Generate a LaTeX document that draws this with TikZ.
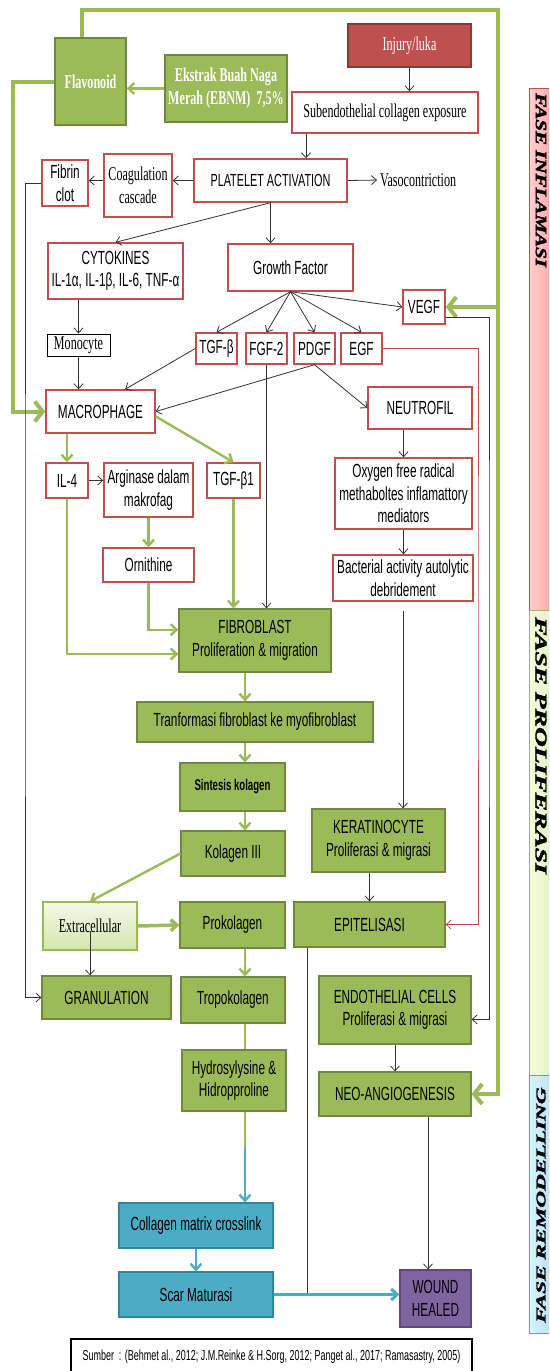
\documentclass[tikz,border=0pt]{standalone}
\usepackage{fontspec}
\usepackage{graphicx}
\usetikzlibrary{arrows.meta}
\newfontfamily\nsans{Liberation Sans}[FakeStretch=0.62]
\newfontfamily\nserif{Liberation Serif}[FakeStretch=0.62]
\newfontfamily\phasefont{Liberation Serif}[BoldItalicFeatures={FakeBold=2}]
\definecolor{redline}{HTML}{C0504D}
\definecolor{rededge}{HTML}{8C3836}
\definecolor{olive}{HTML}{9BBB59}
\definecolor{oliveedge}{HTML}{71893F}
\definecolor{aqua}{HTML}{4BACC6}
\definecolor{aquaedge}{HTML}{31859C}
\definecolor{grape}{HTML}{8064A2}
\definecolor{grapeedge}{HTML}{5F497A}
\definecolor{wire}{HTML}{333333}
\definecolor{pinkA}{HTML}{FFD0D0}
\definecolor{pinkB}{HTML}{FF9A9A}
\definecolor{limeA}{HTML}{F3FBE2}
\definecolor{limeB}{HTML}{DDF2B8}
\definecolor{skyA}{HTML}{DDF3FF}
\definecolor{skyB}{HTML}{A9DDF5}
\definecolor{extA}{HTML}{F4F9EA}
\definecolor{extB}{HTML}{D3E5AD}

\begin{document}
\begin{tikzpicture}[x=1pt,y=-1pt,
    every node/.style={inner sep=0pt,align=center},
    sz/.style 2 args={minimum width=#1,minimum height=#2},
    sansfont/.style={font=\nsans\fontsize{19}{22.5}\selectfont},
    seriffont/.style={font=\nserif\fontsize{19.5}{23}\selectfont},
    redbox/.style={draw=redline,line width=1.4pt,fill=white,sansfont},
    redserif/.style={redbox,seriffont},
    injbox/.style={draw=rededge,line width=1.4pt,fill=redline,text=white,seriffont},
    monobox/.style={draw=black,line width=1pt,fill=white,seriffont},
    grnbox/.style={draw=oliveedge,line width=1.2pt,fill=olive,sansfont},
    grnserif/.style={grnbox,text=white,font=\nserif\bfseries\fontsize{19.5}{23}\selectfont},
    extbox/.style={draw=olive,line width=1.2pt,top color=extA,bottom color=extB,seriffont},
    aquabox/.style={draw=aquaedge,line width=1.2pt,fill=aqua,sansfont},
    grapebox/.style={draw=grapeedge,line width=1.2pt,fill=grape,sansfont},
    srcbox/.style={draw=black,line width=1.6pt,fill=white,font=\nsans\fontsize{14.5}{17}\selectfont},
    phase/.style={font=\phasefont\bfseries\itshape},
    wireline/.style={draw=wire,line width=0.8pt},
    blk/.style={wireline,-{Straight Barb[length=5pt,width=9pt]}},
    redarr/.style={draw=redline,line width=0.8pt,-{Straight Barb[length=5pt,width=9pt]}},
    grnline/.style={draw=olive,line width=2.4pt},
    grn/.style={grnline,-{Straight Barb[length=6pt,width=11pt]}},
    grnthick/.style={draw=olive,line width=4pt,-{Straight Barb[length=8pt,width=20pt]}},
    aquaarr/.style={draw=aqua,line width=2.4pt,-{Straight Barb[length=6pt,width=11pt]}}]
\useasboundingbox (0,0) rectangle (549,1371);
\clip (0,0) rectangle (549,1371);

% phase bands
\draw[redline,line width=0.8pt,left color=pinkA,right color=pinkB] (529,88) rectangle (560,610);
\draw[olive,line width=0.8pt,left color=limeA,right color=limeB] (529,610) rectangle (560,1075);
\draw[aqua,line width=0.8pt,left color=skyA,right color=skyB] (529,1075) rectangle (560,1333);
\node[phase,rotate=-90,anchor=west] (tinf) at (541,93) {\scalebox{1}[0.75]{\fontsize{21}{21}\selectfont FASE INFLAMASI}};
\node[phase,rotate=-90,anchor=west] (tpro) at (541,617) {\scalebox{1}[0.6]{\fontsize{27.5}{27.5}\selectfont FASE PROLIFERASI}};
\node[phase,rotate=90,anchor=west] (trem) at (541,1323) {\scalebox{1}[0.58]{\fontsize{23.3}{23.3}\selectfont FASE REMODELLING}};

% boxes
\node[grnserif,sz={71}{87}] (flav) at (90.5,81.5) {Flavonoid};
\node[grnserif,sz={122}{67}] (ebnm) at (226,88.5) {Ekstrak Buah Naga\\Merah (EBNM) \ 7,5\%};
\node[injbox,sz={123}{43}] (inj) at (409.5,45.5) {Injury/luka};
\node[redserif,sz={186}{41}] (sub) at (385,112.5) {Subendothelial collagen exposure};
\node[redbox,sz={153}{43},font=\nsans\fontsize{17.5}{21}\selectfont] (plt) at (270.5,180.5) {PLATELET ACTIVATION};
\node[redserif,sz={68}{63}] (coag) at (138,185.5) {Coagulation\\cascade};
\node[redbox,sz={46}{46}] (fib) at (65,183) {Fibrin\\clot};
\node[seriffont,anchor=west] (vaso) at (380,180) {Vasocontriction};
\node[redbox,sz={135}{56}] (cyto) at (115.5,271) {CYTOKINES\\IL-1α, IL-1β, IL-6, TNF-α};
\node[redbox,sz={125}{47}] (gf) at (290.5,267.5) {Growth Factor};
\node[redbox,sz={42}{34}] (vegf) at (424,307) {VEGF};
\node[redbox,sz={41}{31}] (tgfb) at (216.5,348.5) {TGF-β};
\node[redbox,sz={41}{31}] (fgf) at (266.5,348.5) {FGF-2};
\node[redbox,sz={41}{31}] (pdgf) at (314.5,348.5) {PDGF};
\node[redbox,sz={41}{31}] (egf) at (361.5,348.5) {EGF};
\node[monobox,sz={63}{22}] (mono) at (78.5,345) {Monocyte};
\node[redbox,sz={109}{43}] (mac) at (100.5,411.5) {MACROPHAGE};
\node[redbox,sz={104}{42}] (neut) at (420,408) {NEUTROFIL};
\node[redbox,sz={42}{35}] (il4) at (67,480.5) {IL-4};
\node[redbox,sz={89}{54}] (arg) at (148.5,490) {Arginase dalam\\makrofag};
\node[redbox,sz={53}{35}] (tgfb1) at (233.5,480.5) {TGF-β1};
\node[redbox,sz={91}{34}] (orn) at (148.5,565) {Ornithine};
\node[redbox,sz={137}{71}] (oxy) at (403.5,493.5) {Oxygen free radical\\methaboltes inflamattory\\mediators};
\node[redbox,sz={140}{46}] (bact) at (403,578) {Bacterial activity autolytic\\debridement};
\node[grnbox,sz={152}{63}] (fibro) at (255,640.5) {FIBROBLAST\\Proliferation \& migration};
\node[grnbox,sz={236}{40}] (trans) at (255,722) {Tranformasi fibroblast ke myofibroblast};
\node[grnbox,sz={105}{48},font=\nsans\bfseries\fontsize{15.5}{18}\selectfont] (sint) at (232.5,787) {Sintesis kolagen};
\node[grnbox,sz={104}{45}] (kol3) at (233,853.5) {Kolagen III};
\node[grnbox,sz={133}{63}] (kera) at (378.5,840.5) {KERATINOCYTE\\Proliferasi \& migrasi};
\node[extbox,sz={94}{48}] (extra) at (90,926) {Extracellular};
\node[grnbox,sz={105}{46}] (prok) at (232.5,925) {Prokolagen};
\node[grnbox,sz={151}{45}] (epit) at (369.5,924.5) {EPITELISASI};
\node[grnbox,sz={129}{43}] (gran) at (106.5,997.5) {GRANULATION};
\node[grnbox,sz={104}{46}] (trop) at (233,1000) {Tropokolagen};
\node[grnbox,sz={152}{68}] (endo) at (395,1010) {ENDOTHELIAL CELLS\\Proliferasi \& migrasi};
\node[grnbox,sz={104}{61}] (hydro) at (234,1080.5) {Hydrosylysine \&\\Hidropproline};
\node[grnbox,sz={152}{44}] (neo) at (395,1094) {NEO-ANGIOGENESIS};
\node[aquabox,sz={154}{45}] (coll) at (196,1225.5) {Collagen matrix crosslink};
\node[aquabox,sz={154}{45}] (scar) at (196,1294.5) {Scar Maturasi};
\node[grapebox,sz={71}{57}] (wound) at (435.5,1298.5) {WOUND\\HEALED};
\node[srcbox,sz={401}{36}] (src) at (271.5,1357) {Sumber \ : (Behmet al., 2012; J.M.Reinke \& H.Sorg, 2012; Panget al., 2017; Ramasastry, 2005)};

% helper points
\coordinate (c306) at (306,0);
\coordinate (c245) at (245,0);
\coordinate (c307) at (307,0);
\coordinate (c428) at (428,0);
\coordinate (lblk) at (25,600);
\coordinate (lgrn) at (13,200);
\coordinate (rred) at (478,600);
\coordinate (rblk) at (489,600);
\coordinate (ftl) at (82,10);
\coordinate (ftr) at (498,10);
\coordinate (hmid) at (245,1148);

% green frame from flavonoid
\draw[grnthick] (ftl |- flav.north) -- (ftl) -- (ftr) |- (neo.east);
\draw[grnthick] (ftr |- vegf.east) -- (vegf.east);
\draw[grnthick] (flav.west) -| (lgrn) |- (mac.west);

% black links
\draw[blk] (inj.south) -- (inj.south |- sub.north);
\draw[blk] (c306 |- sub.south) -- (c306 |- plt.north);
\draw[blk,shorten >=3pt] (plt.east) -- (vaso.west);
\draw[blk] (plt.west) -- (plt.west -| coag.east);
\draw[blk] (coag.west |- plt.west) -- (fib.east |- plt.west);
\draw[blk] (fib.west) -| (lblk) |- (gran.west);
\draw[blk] (plt.south) -- (cyto.north);
\draw[blk] (plt.south) -- (plt.south |- gf.north);
\foreach \gfx in {tgfb,fgf,pdgf,egf}
  \draw[blk] (gf.south) -- (\gfx.north);
\draw[blk] (gf.south) -- (vegf.west);
\draw[blk] (mono.north |- cyto.south) -- (mono.north);
\draw[blk] (mono.south) -- (mono.south |- mac.north);
\draw[blk] (tgfb.west) -- (mac.42);
\draw[blk] (pdgf.south) -- (mac.east);
\draw[blk] (pdgf.south) -- (neut.west);
\draw[blk] (fgf.south) -- (fgf.south |- fibro.north);
\draw[blk] (il4.east) -- (arg.west |- il4.east);
\draw[blk] (oxy.north |- neut.south) -- (oxy.north);
\draw[blk] (oxy.south) -- (oxy.south |- bact.north);
\draw[blk,shorten <=9pt] (bact.south) -- (bact.south |- kera.north);
\draw[blk] (epit.north |- kera.south) -- (epit.north);
\draw[blk,shorten <=5pt] (extra.center) -- (extra.center |- gran.north);
\draw[wireline] (c307 |- epit.south) -- (c307 |- scar.east);
\draw[blk] (vegf.-25) -| (rblk) |- (endo.-7);
\draw[redarr] (egf.east) -| (rred) |- (epit.east);
\draw[blk] (endo.south) -- (endo.south |- neo.north);
\draw[blk] (c428 |- neo.south) -- (c428 |- wound.north);

% green links
\draw[grn] (ebnm.west) -- (ebnm.west -| flav.east);
\draw[grn] (il4.north |- mac.south) -- (il4.north);
\draw[grn] (mac.-5) -- (tgfb1.north);
\draw[grn] (arg.south) -- (orn.north);
\draw[grn] (orn.south) |- (fibro.172);
\draw[grn] (il4.south) |- (fibro.190);
\draw[grn] (tgfb1.south) -- (tgfb1.south |- fibro.north);
\draw[grn] (c245 |- fibro.south) -- (c245 |- trans.north);
\draw[grn] (c245 |- trans.south) -- (c245 |- sint.north);
\draw[grn] (c245 |- sint.south) -- (c245 |- kol3.north);
\draw[grn] (kol3.west) -- (extra.north);
\draw[grn,line width=3.5pt] (extra.east) -- (prok.west);
\draw[grn] (c245 |- prok.south) -- (c245 |- trop.north);
\draw[grnline] (c245 |- trop.south) -- (c245 |- hydro.north);
\draw[grnline] (c245 |- hydro.south) -- (hmid);

% remodelling links
\draw[aquaarr] (hmid) -- (hmid |- coll.north);
\draw[aquaarr] (coll.south) -- (scar.north);
\draw[aquaarr,line width=3pt] (scar.east) -- (scar.east -| wound.west);
\end{tikzpicture}
\end{document}
